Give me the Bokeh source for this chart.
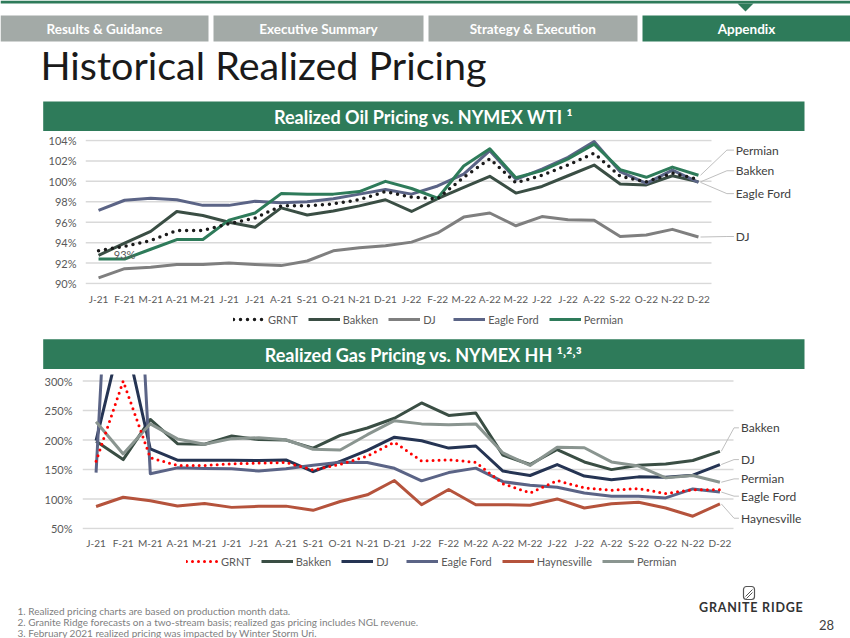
from bokeh.plotting import figure
from bokeh.models import Range1d, FixedTicker, Legend, LegendItem, PrintfTickFormatter
from bokeh.layouts import column
from bokeh.embed import file_html
from bokeh.resources import INLINE
from bokeh.core.properties import value

# ---------------- data ----------------
months = ["J-21", "F-21", "M-21", "A-21", "M-21", "J-21", "J-21", "A-21", "S-21", "O-21", "N-21", "D-21",
          "J-22", "F-22", "M-22", "A-22", "M-22", "J-22", "J-22", "A-22", "S-22", "O-22", "N-22", "D-22"]

oil_grnt = [93.2, 93.65, 94.2, 95.2, 95.2, 95.85, 96.4, 97.6, 97.6, 97.8, 98.2, 99.0,
            98.45, 98.3, 100.4, 102.2, 99.85, 100.6, 101.6, 102.75, 100.5, 99.95, 100.8, 100.2]
oil_bakken = [92.75, 93.95, 95.1, 97.05, 96.65, 96.0, 95.5, 97.4, 96.7, 97.1, 97.6, 98.2,
              97.05, 98.3, 99.4, 100.5, 98.85, 99.5, 100.55, 101.6, 99.75, 99.65, 100.55, 99.95]
oil_dj = [90.55, 91.45, 91.6, 91.85, 91.85, 92.0, 91.85, 91.75, 92.2, 93.2, 93.5, 93.7,
          94.05, 94.95, 96.5, 96.9, 95.65, 96.55, 96.25, 96.2, 94.6, 94.75, 95.3, 94.55]
oil_eagle = [97.15, 98.15, 98.35, 98.2, 97.65, 97.65, 98.05, 97.9, 98.0, 98.3, 98.75, 99.2,
             98.75, 99.55, 100.7, 103.0, 100.2, 101.2, 102.35, 103.9, 100.95, 99.8, 101.1, 99.9]
oil_permian = [92.4, 92.4, 93.35, 94.3, 94.3, 96.2, 96.9, 98.8, 98.75, 98.75, 99.0, 100.0,
               99.3, 98.35, 101.5, 103.2, 100.35, 101.05, 102.2, 103.65, 101.15, 100.4, 101.4, 100.6]
oil_ticks = [90, 92, 94, 96, 98, 100, 102, 104]

gas_grnt = [164, 300, 170, 157, 157, 160, 161, 162, 149.5, 159, 173, 196.5,
            164.5, 166.5, 162.5, 126, 110.5, 131.5, 119, 115, 118, 109.5, 116, 116]
gas_bakken = [198, 167, 235, 194, 193, 207, 201, 200, 186.5, 208, 220.5, 237,
              263, 241.8, 246, 174.5, 158.6, 184, 163, 150, 157.5, 159.7, 165.4, 181]
gas_dj = [199, 390, 185, 166, 166, 166, 165.5, 166.5, 146.5, 164, 182.5, 205,
          199, 186.5, 190, 147.5, 140, 158.6, 139, 133, 137.7, 137, 140.5, 158.6]
gas_eagle = [145, 1000, 143, 153, 152, 151.5, 147.5, 151.5, 157.5, 162.5, 162.2, 152.2,
             131, 145, 152.5, 129.5, 123.5, 120, 110.5, 105, 105, 102, 117.3, 112]
gas_haynes = [87.5, 103.2, 97.2, 88.3, 92.5, 86, 87.7, 88.1, 81, 96, 107.3, 131.5,
              90.5, 116.3, 90.4, 90.5, 89.6, 100.3, 85, 92, 94.7, 85, 71, 92]
gas_permian = [231, 176.6, 227.6, 202, 193, 202.5, 204, 200.6, 184.5, 183.2, 209.2, 233,
               227.5, 226.2, 227.5, 178.2, 157, 188, 187, 163, 156, 136, 140, 128.6]
gas_ticks = [50, 100, 150, 200, 250, 300]

nav_tabs = ["Results & Guidance", "Executive Summary", "Strategy & Execution", "Appendix"]
footnotes = ["1.  Realized pricing charts are based on production month data.",
             "2.  Granite Ridge forecasts on a two-stream basis; realized gas pricing includes NGL revenue.",
             "3.  February 2021 realized pricing was impacted by Winter Storm Uri."]

FONT = "Lato"
GREEN = "#2E7B5A"
TAB_GRAY = "#A3AAA7"
W = 850
xs = list(range(len(months)))


def no_align(p):
    try:
        p.frame_align = False
    except Exception:
        pass


def deco(ytop, ybot):
    h = ybot - ytop
    p = figure(frame_width=W, frame_height=h, x_range=Range1d(0, W), y_range=Range1d(ybot, ytop),
               output_backend="svg", toolbar_location=None, x_axis_location=None, y_axis_location=None,
               min_border=0, min_border_left=0, min_border_right=0, min_border_top=0, min_border_bottom=0,
               outline_line_color=None)
    p.grid.visible = False
    no_align(p)
    return p


def txt(p, x, y, t, size, color, align="left", style="normal", font=FONT):
    p.text(x=[x], y=[y], text=[t], text_font=value(font), text_font_size=value(size),
           text_color=color, text_align=align, text_baseline="middle", text_font_style=style)


# ---------------- top: nav + title + oil header (page y 0-131) ----------------
top = deco(0, 131)
top.quad(left=[0], right=[W], top=[0], bottom=[3], fill_color=GREEN, line_color=None)
top.patch(x=[737, 753, 745], y=[3, 3, 11], fill_color=GREEN, line_color=None)
tab_l = [0, 213, 428, 642]
tab_r = [208, 423, 637, 850]
top.quad(left=tab_l, right=tab_r, top=[15] * 4, bottom=[41] * 4,
         fill_color=[TAB_GRAY, TAB_GRAY, TAB_GRAY, GREEN], line_color=None)
for l, r, t in zip(tab_l, tab_r, nav_tabs):
    txt(top, (l + r) / 2, 28.5, t, "13.5px", "white", "center", "bold")
txt(top, 40, 64, "Historical Realized Pricing", "39.5px", "#1a1a1a")
top.quad(left=[42.7], right=[804], top=[101], bottom=[131], fill_color=GREEN, line_color=None)
txt(top, 423, 116, "Realized Oil Pricing vs. NYMEX WTI \u00b9", "18px", "white", "center", "bold")


def chart(frame_left, step, frame_h, mbt, mbb, yr, yticks, standoff_y, standoff_x):
    fw = W - frame_left
    x_end = -0.5 + fw / step
    p = figure(frame_width=fw, frame_height=frame_h, x_range=Range1d(-0.5, x_end), y_range=Range1d(*yr),
               output_backend="svg", toolbar_location=None,
               min_border_left=frame_left, min_border_right=0, min_border_top=mbt, min_border_bottom=mbb,
               outline_line_color=None)
    no_align(p)
    p.grid.visible = False
    p.segment(x0=[-0.5] * len(yticks), x1=[23.5] * len(yticks), y0=yticks, y1=yticks,
              line_color="#D9D9D9", line_width=1.5, level="underlay")
    p.yaxis.ticker = FixedTicker(ticks=yticks)
    p.yaxis.formatter = PrintfTickFormatter(format="%d%%")
    p.xaxis.ticker = FixedTicker(ticks=xs)
    p.xaxis.major_label_overrides = {i: m for i, m in enumerate(months)}
    for ax in (p.xaxis[0], p.yaxis[0]):
        ax.axis_line_color = None
        ax.major_tick_line_color = None
        ax.minor_tick_line_color = None
        ax.major_tick_in = 0
        ax.major_tick_out = 0
        ax.major_label_text_font = FONT
        ax.major_label_text_color = "#595959"
    p.yaxis.major_label_text_font_size = "11px"
    p.xaxis.major_label_text_font_size = "10px"
    p.yaxis.major_label_standoff = standoff_y
    p.xaxis.major_label_standoff = standoff_x
    return p


def add_lines(p, series):
    for name, ys, color, dash, lw in series:
        if not dash:
            p.line(xs, ys, line_color=color, line_width=lw, line_join="round")
    for name, ys, color, dash, lw in series:
        if dash:
            p.line(xs, ys, line_color=color, line_width=lw, line_dash=dash, line_cap="round")


def legend_strip(ytop, ybot, series, left_x, bottom_gap):
    s = deco(ytop, ybot)
    items = []
    # proxy renderers (kept outside the visible range) that only supply the legend swatches
    px, py = [-20, -10], [ybot + 50, ybot + 50]
    for name, ys, color, dash, lw in series:
        if dash:
            r = s.line(px, py, line_color=color, line_width=lw, line_dash=dash, line_cap="round")
        else:
            r = s.line(px, py, line_color=color, line_width=lw)
        items.append(LegendItem(label=name, renderers=[r]))
    leg = Legend(items=items, orientation="horizontal", location=(left_x, bottom_gap), glyph_width=32,
                 glyph_height=14, label_standoff=3, spacing=10, padding=0, margin=0, border_line_color=None,
                 background_fill_alpha=0, label_text_font=FONT, label_text_font_size="11px",
                 label_text_color="#595959", label_height=14)
    s.add_layout(leg)
    return s


def leaders(p, items, x0, xe, x1, xt):
    p.multi_line(xs=[[x0, xe, x1] for _ in items], ys=[[ye, yl, yl] for _, ye, yl in items],
                 line_color="#BFBFBF", line_width=1)
    p.text(x=[xt] * len(items), y=[yl for _, _, yl in items], text=[n for n, _, _ in items],
           text_font=value(FONT), text_font_size=value("12px"), text_color="#404040",
           text_baseline="middle", text_align="left")


# ---------------- oil chart (page y 131-305) ----------------
oil_series = [
    ("GRNT", oil_grnt, "#1A1A1A", "0 7", 3.5),
    ("Bakken", oil_bakken, "#3A4E44", None, 3),
    ("DJ", oil_dj, "#7F7F7F", None, 3),
    ("Eagle Ford", oil_eagle, "#5B6486", None, 3),
    ("Permian", oil_permian, "#2E7B5A", None, 3),
]
oil = chart(85, 626 / 24, 145, 8, 21, (89.9, 104.1), oil_ticks, 9, 8)
add_lines(oil, oil_series)
oil.text(x=[1.0], y=[92.84], text=["93%"], text_font=value(FONT), text_font_size=value("11px"),
         text_color="#595959", text_align="center", text_baseline="middle")
leaders(oil, [("Permian", oil_permian[-1], 103.06), ("Bakken", oil_bakken[-1], 101.04),
              ("Eagle Ford", oil_eagle[-1], 98.8), ("DJ", oil_dj[-1], 94.6)],
        23.08, 24.09, 24.36, 24.43)
oil_leg = legend_strip(305, 336, oil_series, 233, 12)

# ---------------- gas header (page y 336-367) ----------------
ghdr = deco(336, 367)
ghdr.quad(left=[42.7], right=[804], top=[336.7], bottom=[366.7], fill_color=GREEN, line_color=None)
txt(ghdr, 423, 352, "Realized Gas Pricing vs. NYMEX HH \u00b9\u02d2\u00b2\u02d2\u00b3", "18px", "white", "center", "bold")

# ---------------- gas chart (page y 367-548) ----------------
gas_series = [
    ("GRNT", gas_grnt, "#FF0000", "0 6", 3),
    ("Bakken", gas_bakken, "#3A4E44", None, 3),
    ("DJ", gas_dj, "#253453", None, 3),
    ("Eagle Ford", gas_eagle, "#5B6486", None, 3),
    ("Haynesville", gas_haynes, "#B5533C", None, 3),
    ("Permian", gas_permian, "#8A9590", None, 3),
]
gas = chart(82, 651 / 24, 155, 5, 21, (48.5, 311.2), gas_ticks, 10, 7)
add_lines(gas, gas_series)
leaders(gas, [("Bakken", gas_bakken[-1], 220.8), ("DJ", gas_dj[-1], 167), ("Permian", gas_permian[-1], 134.3),
              ("Eagle Ford", gas_eagle[-1], 105), ("Haynesville", gas_haynes[-1], 67.6)],
        23.05, 23.52, 23.70, 23.78)
gas_leg = legend_strip(548, 575, gas_series, 186, 10)

# ---------------- footer (page y 575-638) ----------------
bot = deco(575, 638)
for i, f in enumerate(footnotes):
    txt(bot, 17, 607.5 + i * 11, f, "10px", "#808080")
bot.quad(left=[743], right=[754], top=[583], bottom=[596], fill_color=None, line_color="#555555",
         line_width=1.2, border_radius=3)
bot.multi_line(xs=[[745, 752], [746, 752]], ys=[[593, 586], [595, 589]], line_color="#555555", line_width=1)
txt(bot, 750, 604, "\u200aG\u200aR\u200aA\u200aN\u200aI\u200aT\u200aE\u2009 R\u200aI\u200aD\u200aG\u200aE",
    "12.5px", "#333333", "center", "bold")
txt(bot, 826, 621, "28", "13px", "#404040", "center")

layout = column(top, oil, oil_leg, ghdr, gas, gas_leg, bot, spacing=0)
open("out.html", "w").write(file_html(layout, INLINE))
